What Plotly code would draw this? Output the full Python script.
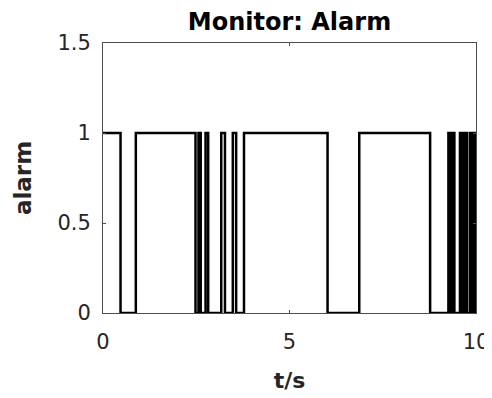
import plotly.graph_objects as go

# Alarm signal: times (s) at which the state changes and the state after each change
switch_times = [0.0, 0.47, 0.88, 2.48, 2.56, 2.62, 2.75, 2.82, 3.17, 3.27, 3.48, 3.57, 3.78,
                6.02, 6.87, 8.77, 9.26, 9.31, 9.36, 9.42, 9.57, 9.62, 9.66, 9.70, 9.73,
                9.76, 9.84, 9.89, 9.93, 9.97, 10.0]
alarm_levels = [1, 0, 1, 0, 1, 0, 1, 0, 1, 0, 1, 0, 1,
                0, 1, 0, 1, 0, 1, 0, 1, 0, 1, 0, 1,
                0, 1, 0, 1, 0, 0]

x_ticks = [0, 5, 10]
y_ticks = [0, 0.5, 1, 1.5]

FONT = "DejaVu Sans"

fig = go.Figure()
fig.add_trace(go.Scatter(
    x=switch_times, y=alarm_levels, mode="lines",
    line=dict(color="black", width=2.5, shape="hv"),
    showlegend=False, cliponaxis=True,
))

axis_common = dict(
    showgrid=False, zeroline=False, automargin=False,
    showline=True, linecolor="#4d4d4d", linewidth=1, mirror="ticks",
    ticks="inside", ticklen=3, tickwidth=1, tickcolor="#4d4d4d",
    tickfont=dict(family=FONT, size=21, color="#262626"),
)

# the page body has an ~8px default margin, so the figure is sized to fit inside it
fig.update_layout(
    width=484, height=390,
    margin=dict(l=95, r=16, t=35, b=85, autoexpand=False),
    paper_bgcolor="white", plot_bgcolor="white",
    title=dict(text="<b>Monitor: Alarm</b>", x=0.5, xref="paper", xanchor="center",
               y=1, yref="paper", yanchor="bottom", pad=dict(b=13), automargin=False,
               font=dict(family=FONT, size=24, color="black")),
    xaxis=dict(range=[0, 10], tickvals=x_ticks, ticktext=[str(v) for v in x_ticks],
               title=dict(text="<b>t/s</b>", font=dict(family=FONT, size=22, color="#262626"),
                          standoff=19),
               ticklabelstandoff=10,
               **axis_common),
    yaxis=dict(range=[0, 1.5], tickvals=y_ticks, ticktext=["0", "0.5", "1", "1.5"],
               title=dict(text="<b>alarm</b>", font=dict(family=FONT, size=23, color="#262626"),
                          standoff=19),
               ticklabelstandoff=7,
               **axis_common),
)

fig.write_html("out.html")
